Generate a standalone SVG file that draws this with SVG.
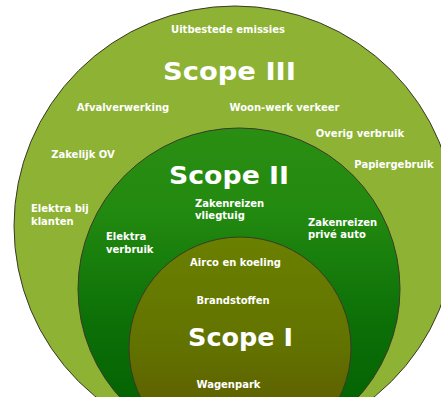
<svg xmlns="http://www.w3.org/2000/svg" width="441" height="397" viewBox="0 0 441 397">
<defs>
<linearGradient id="gMid" x1="0" y1="0" x2="0" y2="1">
<stop offset="0" stop-color="#2a8e12"/>
<stop offset="0.25" stop-color="#238a10"/>
<stop offset="0.6" stop-color="#0c7007"/>
<stop offset="1" stop-color="#005c00"/>
</linearGradient>
<linearGradient id="gIn" x1="0" y1="0" x2="0" y2="1">
<stop offset="0" stop-color="#6a8000"/>
<stop offset="0.5" stop-color="#627200"/>
<stop offset="1" stop-color="#5a5000"/>
</linearGradient>
<style>
.t{font-family:"DejaVu Sans","Verdana",sans-serif;font-weight:bold;fill:#ffffff;font-size:10px}
.big{font-family:"DejaVu Sans","Verdana",sans-serif;font-weight:bold;fill:#ffffff;font-size:25px}
.c{text-anchor:middle}
.ring{stroke:#3a3a2a;stroke-width:1}
</style>
</defs>
<rect width="441" height="397" fill="#ffffff"/>
<g id="scope3">
<ellipse class="ring" cx="235" cy="226" rx="221" ry="220" fill="#8db234"/>
<text class="t c" x="228" y="33">Uitbestede emissies</text>
<text class="big c" x="229.5" y="80" textLength="133" lengthAdjust="spacingAndGlyphs">Scope III</text>
<text class="t c" x="123" y="111">Afvalverwerking</text>
<text class="t c" x="284.5" y="111">Woon-werk verkeer</text>
<text class="t c" x="360" y="137">Overig verbruik</text>
<text class="t c" x="83" y="158">Zakelijk OV</text>
<text class="t c" x="394" y="168">Papiergebruik</text>
<text class="t" x="31" y="212">Elektra bij</text>
<text class="t" x="31" y="225">klanten</text>
</g>
<g id="scope2">
<circle class="ring" cx="239" cy="289" r="161" fill="url(#gMid)"/>
<text class="big c" x="229" y="184" textLength="120" lengthAdjust="spacingAndGlyphs">Scope II</text>
<text class="t" x="195" y="207">Zakenreizen</text>
<text class="t" x="195" y="219">vliegtuig</text>
<text class="t" x="308" y="226">Zakenreizen</text>
<text class="t" x="308" y="238">privé auto</text>
<text class="t" x="106" y="240">Elektra</text>
<text class="t" x="106" y="253">verbruik</text>
</g>
<g id="scope1">
<circle class="ring" cx="240" cy="348" r="111" fill="url(#gIn)"/>
<text class="t c" x="235.5" y="266">Airco en koeling</text>
<text class="t c" x="233" y="304">Brandstoffen</text>
<text class="big c" x="240.5" y="346" textLength="105" lengthAdjust="spacingAndGlyphs">Scope I</text>
<text class="t c" x="228.5" y="388">Wagenpark</text>
</g>
<g id="connectors"/>
</svg>
